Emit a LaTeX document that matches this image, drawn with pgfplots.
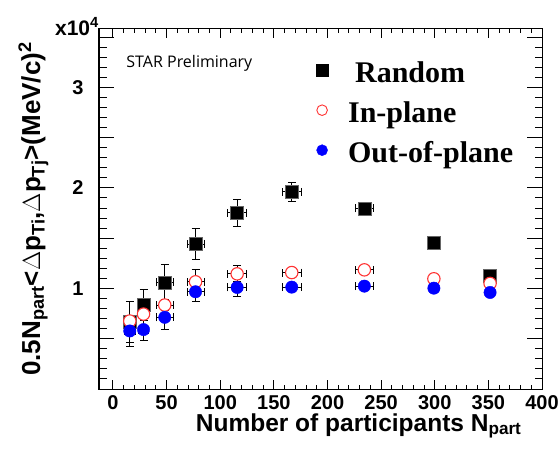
\documentclass[border=0pt]{standalone}
\usepackage{fontspec}
\setmainfont{Liberation Sans}
\newfontfamily\timesfont{Liberation Serif}
\newfontfamily\starfont{Open Sans}
\usepackage{pgfplots}
\usepackage{pgfplotstable}
\pgfplotsset{compat=1.18}

\definecolor{rootred}{RGB}{255,50,50}
\definecolor{rootblue}{RGB}{0,0,255}

% values in units of 10^4 (MeV/c)^2
\pgfplotstableread{
x      xe  y      ye
15.7   5   0.667  0.200
28.5   5   0.842  0.145
48.3   8   1.060  0.180
77.0   8   1.442  0.150
115.8  9   1.752  0.135
166.7  9   1.960  0.095
234.4  8   1.795  0.030
299.2  3   1.458  0.020
351.6  3   1.122  0.020
}\randomtab

\pgfplotstableread{
x      xe  y      ye
15.7   5   0.676  0.060
28.5   5   0.745  0.060
48.3   8   0.835  0.056
77.0   8   1.066  0.120
115.8  9   1.145  0.080
166.7  9   1.158  0.040
234.4  8   1.185  0.030
299.2  3   1.096  0.020
351.6  3   1.050  0.020
}\inplanetab

\pgfplotstableread{
x      xe  y      ye
15.7   5   0.577  0.155
28.5   5   0.591  0.106
48.3   8   0.713  0.120
77.0   8   0.967  0.100
115.8  9   1.010  0.090
166.7  9   1.013  0.040
234.4  8   1.023  0.030
299.2  3   1.003  0.020
351.6  3   0.960  0.020
}\outplanetab

\pgfplotsset{
  rootframe/.style={
    at={(0,0)}, anchor=south west,
    scale only axis, width=443pt, height=360pt,
    xmin=-13, xmax=400, ymin=0, ymax=3.58,
    tick align=inside,
    axis line style={line width=1pt, black},
    tick style={line width=0.9pt, black},
  },
  errs/.style={
    only marks, mark=none, forget plot,
    error bars/.cd,
      x dir=both, x explicit, y dir=both, y explicit,
      error bar style={black, line width=0.9pt},
      error mark options={rotate=90, black, line width=0.9pt, mark size=4pt},
  },
  legimg/.style={legend image code/.code={
    \path[draw=none, fill=none] (-6pt,-6pt) rectangle (26pt,6pt);
    \draw[##1] plot coordinates {(0pt,0pt)};}},
}

\begin{document}
\begin{tikzpicture}
\useasboundingbox (-99pt,-64pt) rectangle (460pt,389pt);

% y ticks (long ones)
\begin{axis}[
  rootframe,
  xtick=\empty,
  ytick={0,0.5,1,1.5,2,2.5,3,3.5},
  yticklabels={,,1,,2,,3,},
  minor y tick num=4,
  ytick pos=both,
  major tick length=15pt, minor tick length=7.5pt,
  yticklabel style={font=\bfseries\fontsize{20}{20}\selectfont, anchor=base east, xshift=-12pt, yshift=-7pt},
  ylabel={\bfseries 0.5N\textsubscript{part}<$\Delta$p\textsubscript{Ti},$\Delta$p\textsubscript{Tj}>(MeV/c)\textsuperscript{2}},
  ylabel style={font=\bfseries\fontsize{26}{26}\selectfont, at={(axis description cs:-0.133,0.5)}, anchor=base},
]
\end{axis}

% x ticks, data, legend
\begin{axis}[
  rootframe,
  clip=false,
  ytick=\empty,
  xtick={0,50,...,400},
  minor x tick num=4,
  xtick pos=both,
  major tick length=9pt, minor tick length=4.5pt,
  xticklabel style={font=\bfseries\fontsize{20}{20}\selectfont, anchor=base, yshift=-20pt},
  /pgf/number format/assume math mode=true,
  xlabel={Number of participants N\textsubscript{part}},
  xlabel style={font=\bfseries\fontsize{24.5}{24.5}\selectfont, at={(axis description cs:0.9616,-0.117)}, anchor=base east},
  legend style={draw=none, fill=none, at={(rel axis cs:0.4824,0.9417)}, anchor=north west,
    font=\timesfont\bfseries\fontsize{30}{30}\selectfont, row sep=4pt, column sep=0pt,
    nodes={inner sep=0pt}},
  legend cell align=left,
]
\addplot[errs] table[x=x, y=y, x error=xe, y error=ye] {\randomtab};
\addplot[only marks, mark=square*, mark size=6.5pt, mark options={fill=black, draw=black!60},
  forget plot] table[x=x, y=y] {\randomtab};
\addplot[errs] table[x=x, y=y, x error=xe, y error=ye] {\inplanetab};
\addplot[only marks, mark=*, mark size=6.2pt, mark options={draw=rootred, line width=1.1pt, fill=white},
  forget plot] table[x=x, y=y] {\inplanetab};
\addplot[errs] table[x=x, y=y, x error=xe, y error=ye] {\outplanetab};
\addplot[only marks, mark=*, mark size=6.2pt, mark options={fill=rootblue, draw=rootblue},
  forget plot] table[x=x, y=y] {\outplanetab};

\addlegendimage{only marks, mark=square*, mark size=6.2pt, black, legimg}
\addlegendentry[text height=30pt, text depth=6pt]{\hspace{7pt}Random}
\addlegendimage{only marks, mark=*, mark size=5.3pt, mark options={draw=rootred, fill=white, line width=0.9pt}, legimg}
\addlegendentry[text height=30pt, text depth=6pt]{In-plane}
\addlegendimage{only marks, mark=*, mark size=5.5pt, rootblue, legimg}
\addlegendentry[text height=30pt, text depth=6pt]{Out-of-plane}

\node[anchor=base west, font=\starfont\fontsize{16}{16}\selectfont] at (rel axis cs:0.054,0.894) {STAR Preliminary};
\node[anchor=base east, inner sep=0pt] at (rel axis cs:0,0.983) {\fontsize{21}{21}\selectfont\bfseries x10\textsuperscript{4}};
\end{axis}
\end{tikzpicture}
\end{document}
